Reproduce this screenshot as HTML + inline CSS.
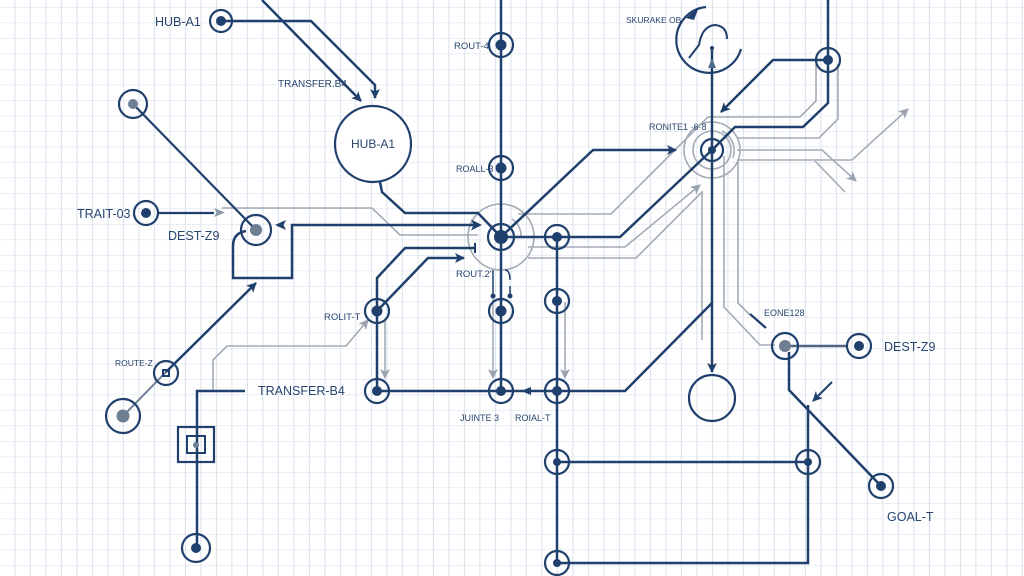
<!DOCTYPE html>
<html><head><meta charset="utf-8"><style>
html,body{margin:0;padding:0;background:#fff;}
svg{display:block;}
text{font-family:"Liberation Sans",sans-serif;fill:#27456f;}
</style></head><body>
<svg width="1024" height="576" viewBox="0 0 1024 576" xmlns="http://www.w3.org/2000/svg">
<defs>
<pattern id="grid" x="0" y="7" width="15.5" height="15.5" patternUnits="userSpaceOnUse">
<line x1="15" y1="0" x2="15" y2="15.5" stroke="#dfe5ee" stroke-width="1.3"/>
<line x1="0" y1="0" x2="15.5" y2="0" stroke="#dfe5ee" stroke-width="1.3"/>
</pattern>
<marker id="ad" viewBox="0 0 10 10" refX="9" refY="5" markerWidth="11" markerHeight="10" markerUnits="userSpaceOnUse" orient="auto"><path d="M0,0 L10,5 L0,10 L2.5,5 z" fill="#1f3f6c"/></marker>
<marker id="ag" viewBox="0 0 10 10" refX="9" refY="5" markerWidth="11" markerHeight="10" markerUnits="userSpaceOnUse" orient="auto"><path d="M0,0 L10,5 L0,10 L2.5,5 z" fill="#9aa4b0"/></marker>
</defs>
<rect width="1024" height="576" fill="#fff"/>
<rect width="1024" height="576" fill="url(#grid)"/>

<!-- gray lines -->
<g fill="none" stroke="#a3abb5" stroke-width="1.6">
<path d="M222,208 H372 L400,235 H478"/>
<path d="M213,391 V360 L227,346 H346 L368,320" marker-end="url(#ag)"/>
<path d="M385,320 V378" marker-end="url(#ag)"/>
<path d="M493,296 V378" marker-end="url(#ag)"/>
<path d="M565,302 V378" marker-end="url(#ag)"/>
<path d="M123,416 L166,372" stroke="#6f8096" stroke-width="2"/>
<path d="M518,214 H611 L708,117 H800 L816,101 V64"/>
<path d="M528,247 H625 L700,185" marker-end="url(#ag)"/>
<path d="M528,258 H636 L702,192 V340"/>
<path d="M724,156 V307 L760,345 H775"/>
<path d="M738,160 V303 L750,315"/>
<path d="M737,138 H819 L838,119 V64"/>
<path d="M737,150 H822 L856,181" marker-end="url(#ag)"/>
<path d="M737,160 H852 L908,109" marker-end="url(#ag)"/>
<path d="M815,161 L845,192"/>
<circle cx="501" cy="237" r="33"/>
<circle cx="712" cy="150" r="19"/>
<circle cx="712" cy="150" r="28"/>
<path d="M512,219 A20,20 0 0 1 521,237" />
<path d="M722,131 A22,22 0 0 1 733,158" />
</g>

<!-- dark lines -->
<g fill="none" stroke="#1f3f6c" stroke-width="2.5" stroke-linejoin="miter">
<path d="M221,21 H311 L375,85 V98" marker-end="url(#ad)"/>
<path d="M262,0 L361,101" marker-end="url(#ad)"/>
<path d="M380,182 L382,192 L405,213 H478 L500,236"/>
<path d="M133,104 L256,230" stroke-width="2.2"/>
<path d="M158,213 H214" stroke-width="2.2"/>
<path d="M246,231 Q233,233 233,246 V278 H292 V225 H478"/>
<path d="M166,372 L256,283" marker-end="url(#ad)"/>
<path d="M245,391 H197 V548"/>
<path d="M377,391 V278 L405,248 H476"/>
<path d="M377,311 L428,258 H464" marker-end="url(#ad)"/>
<path d="M377,391 H625 L712,303"/>
<path d="M501,0 V391"/>
<path d="M557,237 V563"/>
<path d="M557,462 H808"/>
<path d="M557,563 H808 V405"/>
<path d="M501,237 H620 L712,150 L735,127 H803 L828,103 V0"/>
<path d="M501,237 L593,150 H676" marker-end="url(#ad)"/>
<path d="M828,60 H773 L721,112" marker-end="url(#ad)"/>
<path d="M712,48 V372" marker-end="url(#ad)"/>
<path d="M789,352 V390 L881,486"/>
<path d="M832,382 L813,401" stroke-width="2" marker-end="url(#ad)"/>
<path d="M750,314 L766,328" stroke-width="2.2"/>
<path d="M785,346 H847" stroke="#4d6380"/>
<path d="M741,49 A33,33 0 1 1 706,7" stroke-width="2.2"/>
<path d="M689,58 L699,45 Q702,26 715,25 Q727,26 727,39" stroke-width="2"/>
<path d="M475,243 V253" stroke-width="2"/>
<path d="M493,270 V296 M510,286 V296 M505,270 Q510,270 510,280" stroke-width="1.5"/>
</g>

<!-- extra arrowheads -->
<polygon points="214,208 225,212.5 214,217 216.5,212.5" fill="#8d98a6"/>
<polygon points="286,220 275,225 286,230 283.5,225" fill="#1f3f6c"/>
<polygon points="471,219.5 482,225 471,230.5 473.5,225" fill="#1f3f6c"/>
<polygon points="531,387 521,391 531,395" fill="#1f3f6c"/>
<polygon points="708,68 712,58 716,68" fill="#4d6a8f"/>
<polygon points="686,18 699,7 694,20" fill="#1f3f6c"/>
<circle cx="712" cy="48" r="2" fill="#1f3f6c"/>
<circle cx="493" cy="296" r="2.5" fill="#1f3f6c"/>
<circle cx="510" cy="296" r="2.5" fill="#1f3f6c"/>

<!-- big circles -->
<circle cx="373" cy="144" r="38" fill="#fff" stroke="#1f3f6c" stroke-width="2.2"/>
<circle cx="712" cy="398" r="23" fill="none" stroke="#1f3f6c" stroke-width="2.2"/>

<!-- box node -->
<rect x="178" y="427" width="36" height="35" fill="none" stroke="#1f3f6c" stroke-width="2.2"/>
<rect x="187" y="436" width="18" height="17" fill="none" stroke="#1f3f6c" stroke-width="2"/>
<circle cx="196" cy="445" r="3" fill="#6f7f93"/>

<!-- nodes -->
<g fill="none" stroke="#1f3f6c" stroke-width="2.2">
<circle cx="221" cy="21" r="11"/>
<circle cx="146" cy="213" r="12"/>
<circle cx="501" cy="45" r="12"/>
<circle cx="501" cy="168" r="12"/>
<circle cx="501" cy="237" r="13"/>
<circle cx="501" cy="311" r="12"/>
<circle cx="377" cy="311" r="12"/>
<circle cx="377" cy="391" r="12"/>
<circle cx="501" cy="391" r="12"/>
<circle cx="557" cy="237" r="12"/>
<circle cx="557" cy="301" r="12"/>
<circle cx="557" cy="391" r="12"/>
<circle cx="557" cy="462" r="12"/>
<circle cx="557" cy="563" r="12"/>
<circle cx="808" cy="462" r="12"/>
<circle cx="828" cy="60" r="12"/>
<circle cx="712" cy="150" r="11"/>
<circle cx="196" cy="548" r="14"/>
<circle cx="881" cy="486" r="12"/>
<circle cx="859" cy="346" r="12"/>
<circle cx="133" cy="104" r="14"/>
<circle cx="256" cy="230" r="15"/>
<circle cx="123" cy="416" r="17"/>
<circle cx="785" cy="346" r="13"/>
<circle cx="166" cy="373" r="12"/>
<rect x="163" y="370" width="6" height="6" stroke-width="2"/>
</g>
<g fill="#1f3f6c">
<circle cx="221" cy="21" r="5"/>
<circle cx="146" cy="213" r="5"/>
<circle cx="501" cy="45" r="5.5"/>
<circle cx="501" cy="168" r="5.5"/>
<circle cx="501" cy="237" r="7"/>
<circle cx="501" cy="311" r="5.5"/>
<circle cx="377" cy="311" r="5.5"/>
<circle cx="377" cy="391" r="5"/>
<circle cx="501" cy="391" r="5"/>
<circle cx="557" cy="237" r="5"/>
<circle cx="557" cy="301" r="5"/>
<circle cx="557" cy="391" r="5"/>
<circle cx="557" cy="462" r="4"/>
<circle cx="557" cy="563" r="4"/>
<circle cx="808" cy="462" r="4"/>
<circle cx="828" cy="60" r="5"/>
<circle cx="712" cy="150" r="4"/>
<circle cx="196" cy="548" r="5"/>
<circle cx="881" cy="486" r="5"/>
<circle cx="859" cy="346" r="5"/>
</g>
<g fill="#6f7f93">
<circle cx="133" cy="104" r="5"/>
<circle cx="256" cy="230" r="6"/>
<circle cx="123" cy="416" r="6.5"/>
<circle cx="785" cy="346" r="6"/>
</g>

<!-- labels -->
<text x="155" y="26" font-size="12.5">HUB-A1</text>
<text x="278" y="87" font-size="10">TRANSFER.B4</text>
<text x="373" y="148" font-size="12" text-anchor="middle">HUB-A1</text>
<text x="77" y="218" font-size="12.5">TRAIT-03</text>
<text x="168" y="240" font-size="12.5">DEST-Z9</text>
<text x="115" y="366" font-size="8.5">ROUTE-Z</text>
<text x="258" y="395" font-size="12.5">TRANSFER-B4</text>
<text x="324" y="320" font-size="9.5">ROLIT-T</text>
<text x="454" y="49" font-size="9.5">ROUT-4</text>
<text x="456" y="172" font-size="9">ROALL-3</text>
<text x="456" y="277" font-size="9.5">ROUT.2'</text>
<text x="460" y="421" font-size="9">JUINTE 3</text>
<text x="515" y="421" font-size="9">ROIAL-T</text>
<text x="626" y="23" font-size="8.5">SKURAKE OB</text>
<text x="649" y="130" font-size="9">RONITE1 ·6·8</text>
<text x="764" y="316" font-size="9">EONE128</text>
<text x="884" y="351" font-size="12.5">DEST-Z9</text>
<text x="887" y="521" font-size="12.5">GOAL-T</text>
</svg>
</body></html>
